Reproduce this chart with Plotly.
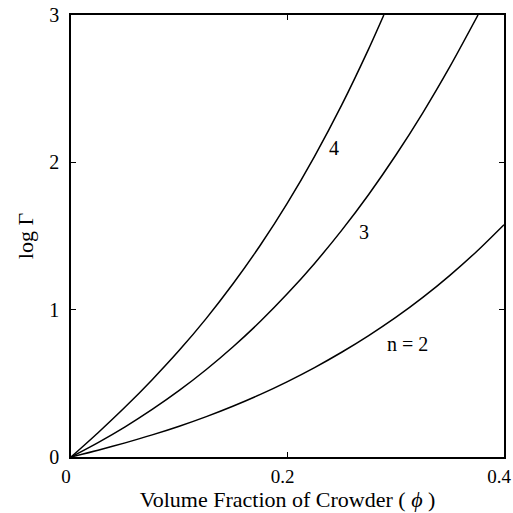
import plotly.graph_objects as go

# Data (log Γ vs volume fraction φ)
phi_n2 = [0.0, 0.025, 0.05, 0.075, 0.1, 0.125, 0.15, 0.175, 0.2, 0.225, 0.25, 0.275, 0.3, 0.325, 0.35, 0.375, 0.4]
log_n2 = [0.0, 0.046, 0.096, 0.150, 0.209, 0.274, 0.346, 0.425, 0.512, 0.607, 0.711, 0.824, 0.947, 1.083, 1.233, 1.397, 1.577]

phi_n3 = [0.0, 0.025, 0.05, 0.075, 0.1, 0.125, 0.15, 0.175, 0.2, 0.225, 0.25, 0.275, 0.3, 0.325, 0.35, 0.376]
log_n3 = [0.0, 0.098, 0.205, 0.323, 0.452, 0.594, 0.750, 0.921, 1.109, 1.314, 1.538, 1.782, 2.048, 2.336, 2.649, 3.0]

phi_n4 = [0.0, 0.025, 0.05, 0.075, 0.1, 0.125, 0.15, 0.175, 0.2, 0.225, 0.25, 0.275, 0.289]
log_n4 = [0.0, 0.165, 0.339, 0.525, 0.724, 0.941, 1.179, 1.439, 1.725, 2.041, 2.388, 2.770, 3.0]

curve_labels = ["n\u00a0=\u00a02", "3", "4"]
label_phi = [0.311, 0.271, 0.243]
label_log = [0.77, 1.53, 2.10]

x_ticks = [0, 0.2, 0.4]
x_tick_text = ["0", "0.2", "0.4"]
y_ticks = [0, 1, 2, 3]
y_tick_text = ["0", "1", "2", "3"]

FONT = "Liberation Serif"

fig = go.Figure()
for xs, ys in [(phi_n2, log_n2), (phi_n3, log_n3), (phi_n4, log_n4)]:
    fig.add_trace(go.Scatter(x=xs, y=ys, mode="lines",
                             line=dict(color="black", width=1.5, shape="spline", smoothing=0.8),
                             showlegend=False, hoverinfo="skip"))

for t, x, y in zip(curve_labels, label_phi, label_log):
    fig.add_annotation(x=x, y=y, text=t, showarrow=False,
                       font=dict(family=FONT, size=20, color="black"))

fig.update_layout(
    width=513, height=513,
    margin=dict(l=71, r=9, t=15, b=56),
    paper_bgcolor="white", plot_bgcolor="white",
    font=dict(family=FONT, color="black", size=20),
)
fig.update_xaxes(range=[0, 0.4], tickvals=x_ticks, ticktext=x_tick_text,
                 ticks="inside", ticklen=5, tickwidth=1, tickcolor="black",
                 showline=True, linecolor="black", linewidth=1.5, mirror="ticks",
                 showgrid=False, zeroline=False, ticklabeloverflow="allow",
                 automargin=False, ticklabelstandoff=1, ticklabelshift=-5,
                 title=dict(text="Volume Fraction of Crowder ( <i>ϕ</i> )", standoff=2,
                            font=dict(size=22)),
                 tickfont=dict(size=19))
fig.update_yaxes(range=[0, 3], tickvals=y_ticks, ticktext=y_tick_text,
                 ticks="inside", ticklen=5, tickwidth=1, tickcolor="black",
                 showline=True, linecolor="black", linewidth=1.5, mirror="ticks",
                 showgrid=False, zeroline=False, automargin=False, ticklabelstandoff=6,
                 title=dict(text="log Γ", standoff=10, font=dict(size=22)),
                 tickfont=dict(size=20))

fig.write_html("out.html")
